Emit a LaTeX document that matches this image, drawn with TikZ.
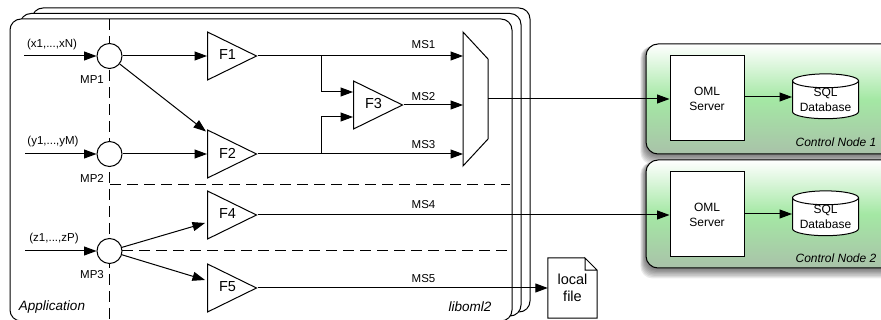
\documentclass[tikz,border=0pt]{standalone}
\usepackage{fontspec}
\setmainfont{Liberation Sans}
\usetikzlibrary{arrows.meta,shapes.geometric}
\definecolor{nodegreen}{HTML}{A4E8A4}
\definecolor{nodegrey}{HTML}{A9C2A9}
\tikzset{
  flow/.style={draw,line width=1pt,-{Triangle[length=12.5pt,width=9pt]}},
  split/.style={draw,line width=1pt,dash pattern=on 11pt off 6pt},
  stack/.style={draw,line width=1pt,fill=white,rounded corners=11pt},
  mpoint/.style={circle,draw,line width=1pt,fill=white,minimum size=25pt,inner sep=0pt},
  filter/.style={isosceles triangle,isosceles triangle stretches,draw,line width=1pt,fill=white,
    minimum height=49pt,minimum width=48pt,inner sep=0pt,anchor=lower side},
  tag/.style={font=\fontsize{11.5}{13}\selectfont,align=center,inner sep=0pt},
  note/.style={font=\fontsize{13.5}{15}\selectfont\itshape,inner sep=0pt},
  cnote/.style={font=\fontsize{12}{15}\selectfont\itshape,inner sep=0pt},
  server/.style={draw,line width=1pt,fill=white,minimum width=74pt,inner sep=0pt,
    font=\fontsize{12}{15}\selectfont,align=center},
  sqldb/.style={cylinder,shape border rotate=90,aspect=.27,draw,line width=1pt,fill=white,
    minimum width=66pt,minimum height=44pt,inner sep=0pt,
    font=\fontsize{12}{15}\selectfont,align=center},
  cnode/.style={draw,line width=1pt,rounded corners=12pt,top color=white,bottom color=nodegrey,
    middle color=nodegreen},
}
\begin{document}
\begin{tikzpicture}[x=1pt,y=-1pt]
\useasboundingbox (0,0) rectangle (881,320);
\clip (0,0) rectangle (881,320);
\fill[white] (0,0) rectangle (881,320);
\draw[stack] (32,8) rectangle (530,312);
\draw[stack] (20,13.5) rectangle (521,316);
\draw[stack] (10,19) rectangle (512,321);
\draw[split] (109.5,19) -- (109.5,320);
\draw[split] (110,184.5) -- (510,184.5);
\draw[split] (122,251) -- (512,251);
\foreach \name/\y in {MP1/56,MP2/154,MP3/251}
  \node[mpoint] (\name) at (109.5,\y) {};
\foreach \name/\x/\y in {F1/207/56,F2/207/154,F3/353/105,F4/207/215,F5/207/288}
  \node[filter] (\name) at (\x,\y) {};
\foreach \name/\x/\y in {F1/227.5/55,F2/227.5/153,F3/373.5/104,F4/227.5/214,F5/227.5/287}
  \node[font=\fontsize{14.5}{14}\selectfont,inner sep=0pt] (\name label) at (\x,\y) {\name};
\coordinate (in1) at (24,56);
\coordinate (in2) at (25,154);
\coordinate (in3) at (25,251);
\draw[flow] (in1) -- (MP1);
\draw[flow] (in2) -- (MP2);
\draw[flow] (in3) -- (MP3);
\node[tag] (x) at (52,45) {(x1,...,xN)};
\node[tag] (y) at (53,142) {(y1,...,yM)};
\node[tag] (z) at (54,239) {(z1,...,zP)};
\node[tag] (l1) at (92,80) {MP1};
\node[tag] (l2) at (92,178) {MP2};
\node[tag] (l3) at (92,275) {MP3};
\node[note] (app) at (52,307) {Application};
\node[note] (lib) at (470,307) {liboml2};
\draw[flow] (MP1) -- (F1.lower side);
\draw[flow] (MP1) -- (206,131.5);
\draw[flow] (MP2) -- (F2.lower side);
\draw[flow] (MP3) -- (205,223);
\draw[flow] (MP3) -- (205,280);
\draw[fill=white,line width=1pt] (463,32) -- (488,59) -- (488,139) -- (463,166) -- cycle;
\coordinate (mux1) at (463,56);
\coordinate (mux2) at (463,105);
\coordinate (mux3) at (463,154);
\draw[flow] (F1.apex) -- (mux1);
\draw[flow] (F2.apex) -- (mux3);
\draw[flow] (F3.apex) -- (mux2);
\draw[flow] (321.5,56) |- (353,92);
\draw[flow] (321.5,154) |- (353,117);
\node[tag] (ms1) at (423.5,45) {MS1};
\node[tag] (ms2) at (423.5,97) {MS2};
\node[tag] (ms3) at (423.5,145) {MS3};
\node[tag] (ms4) at (423.5,205) {MS4};
\node[tag] (ms5) at (423.5,279) {MS5};
\foreach \i/\t/\b in {1/44/154,2/160/268} {
  \foreach \s in {1,...,8}
    \fill[black,opacity=.08,rounded corners=12pt] (646-\s*.7,\t+2) rectangle (900,\b+\s*1.3);
  \draw[cnode] (646,\t) rectangle (900,\b);
}
\node[server,minimum height=85pt] (srv1) at (707,98.5) {OML\\Server};
\node[server,minimum height=85pt] (srv2) at (707,214.5) {OML\\Server};
\node[sqldb] (db1) at (825.5,100) {SQL\\Database};
\node[sqldb] (db2) at (825.5,217) {SQL\\Database};
\node[cnote] (cn1) at (836,142) {Control Node 1};
\node[cnote] (cn2) at (836,258) {Control Node 2};
\coordinate (mux out) at (488,99);
\coordinate (db1 in) at (792,97);
\coordinate (db2 in) at (792,214);
\draw[flow] (mux out) -- (srv1.west |- mux out);
\draw[flow] (F4.apex) -- (F4.apex -| srv2.west);
\draw[flow] (srv1.east |- db1 in) -- (db1 in);
\draw[flow] (srv2.east |- db2 in) -- (db2 in);
\node[minimum width=49pt,minimum height=60pt,inner sep=0pt,align=center,
  font=\fontsize{14.5}{17}\selectfont] (file) at (572.5,288) {local\\file};
\draw[line width=1pt] (file.north east) ++(-12,0) -- (file.north west) -- (file.south west)
  -- (file.south east) -- ++(0,-48) -- ++(-12,-12) -- ++(0,12) -- ++(12,0);
\draw[flow] (F5.apex) -- (file);
\end{tikzpicture}
\end{document}
